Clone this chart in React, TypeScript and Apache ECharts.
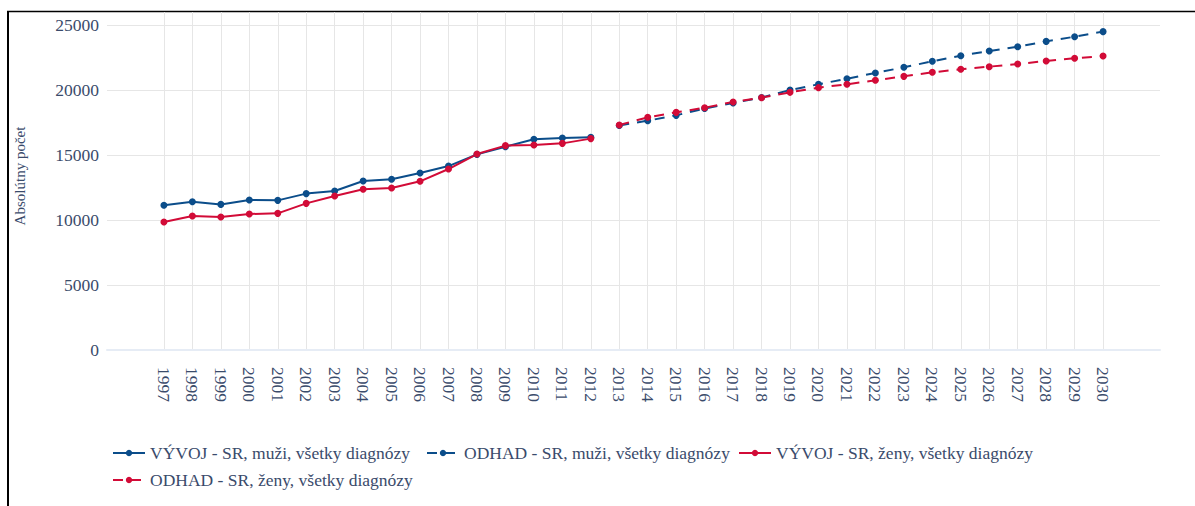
import React, { useEffect, useRef } from "react";
import * as echarts from "echarts";

const padBefore = [1995, 1996];
const padAfter = [2031, 2032];
const histYears = [1997, 1998, 1999, 2000, 2001, 2002, 2003, 2004, 2005, 2006, 2007, 2008, 2009, 2010, 2011, 2012];
const fcYears = [2013, 2014, 2015, 2016, 2017, 2018, 2019, 2020, 2021, 2022, 2023, 2024, 2025, 2026, 2027, 2028, 2029, 2030];

const menHist = [11130, 11410, 11200, 11540, 11510, 12030, 12230, 13000, 13130, 13615, 14150, 15050, 15640, 16205, 16310, 16360];
const womenHist = [9850, 10310, 10230, 10460, 10510, 11280, 11845, 12360, 12460, 12975, 13920, 15075, 15720, 15770, 15895, 16260];
const menFc = [17270, 17640, 18050, 18580, 19000, 19420, 20000, 20440, 20870, 21310, 21745, 22210, 22640, 23000, 23330, 23740, 24100, 24490];
const womenFc = [17310, 17900, 18280, 18640, 19080, 19410, 19820, 20180, 20440, 20745, 21050, 21360, 21590, 21795, 22000, 22230, 22440, 22615];

const names = [
  "VÝVOJ - SR, muži, všetky diagnózy",
  "ODHAD - SR, muži, všetky diagnózy",
  "VÝVOJ - SR, ženy, všetky diagnózy",
  "ODHAD - SR, ženy, všetky diagnózy",
];

const BLUE = "#0b4d8a";
const RED = "#d20b37";
const TXT = "#3a4b6b";
const FONT = "'Liberation Serif', 'DejaVu Serif', serif";

export default function App() {
  const ref = useRef<HTMLDivElement>(null);
  useEffect(() => {
    if (!ref.current) return;
    const chart = echarts.init(ref.current, undefined, { renderer: "svg" });
    const cats = [...padBefore, ...histYears, ...fcYears, ...padAfter].map(String);
    const padSet = new Set([...padBefore, ...padAfter].map(String));
    const pairs = (ys: number[], vs: number[]) => ys.map((y, i) => [String(y), vs[i]]);
    const mk = (name: string, data: any[], color: string, dashed: boolean) => ({
      name,
      type: "line",
      data,
      symbol: "circle",
      symbolSize: 7,
      showSymbol: true,
      itemStyle: { color },
      lineStyle: { color, width: 2, type: dashed ? [10, 8] : "solid" },
    });
    const legendPos = [
      [112, 444],
      [426, 444],
      [738, 444],
      [112, 471],
    ];
    const legends = names.map((n, i) => ({
      left: legendPos[i][0],
      top: legendPos[i][1],
      itemWidth: 32,
      itemHeight: 8,
      padding: 0,
      textStyle: { color: TXT, fontSize: 17.5, fontFamily: FONT },
      data: [n],
    }));
    chart.setOption({
      animation: false,
      textStyle: { fontFamily: FONT },
      grid: { left: 107, right: 35, top: 12, bottom: 156, containLabel: false },
      xAxis: {
        type: "category",
        data: cats,
        boundaryGap: false,
        axisLine: { show: true, lineStyle: { color: "#e6ecf5", width: 2 } },
        axisTick: { show: false },
        axisLabel: {
          rotate: -90,
          margin: 17,
          color: TXT,
          fontSize: 17.5,
          fontFamily: FONT,
          interval: (i: number, v: string) => !padSet.has(v),
        },
        splitLine: {
          show: true,
          interval: (i: number, v: string) => !padSet.has(v),
          lineStyle: { color: "#e6e6e6", width: 1 },
        },
      },
      yAxis: {
        type: "value",
        min: 0,
        max: 26000,
        interval: 5000,
        name: "Absolútny počet",
        nameLocation: "middle",
        nameRotate: 90,
        nameGap: 80,
        nameTextStyle: { color: TXT, fontSize: 15, fontFamily: FONT, padding: [0, 0, 0, 10] },
        axisLine: { show: false },
        axisTick: { show: false },
        axisLabel: {
          color: TXT,
          fontSize: 17.5,
          margin: 8,
          fontFamily: FONT,
          showMaxLabel: false,
          formatter: (v: number) => String(v),
        },
        splitLine: { show: true, showMaxLine: false, lineStyle: { color: "#e6e6e6", width: 1 } },
      },
      legend: legends,
      graphic: [
        { type: "line", shape: { x1: 8, y1: 11, x2: 8, y2: 506 }, style: { stroke: "#000", lineWidth: 2 } },
        { type: "line", shape: { x1: 7, y1: 11.5, x2: 1195, y2: 11.5 }, style: { stroke: "#000", lineWidth: 1.5 } },
      ],
      series: [
        mk(names[0], pairs(histYears, menHist), BLUE, false),
        mk(names[1], pairs(fcYears, menFc), BLUE, true),
        mk(names[2], pairs(histYears, womenHist), RED, false),
        mk(names[3], pairs(fcYears, womenFc), RED, true),
      ],
    });
    return () => chart.dispose();
  }, []);
  return <div ref={ref} style={{ position: "fixed", left: 0, top: 0, width: 1195, height: 506, background: "#fff" }} />;
}
